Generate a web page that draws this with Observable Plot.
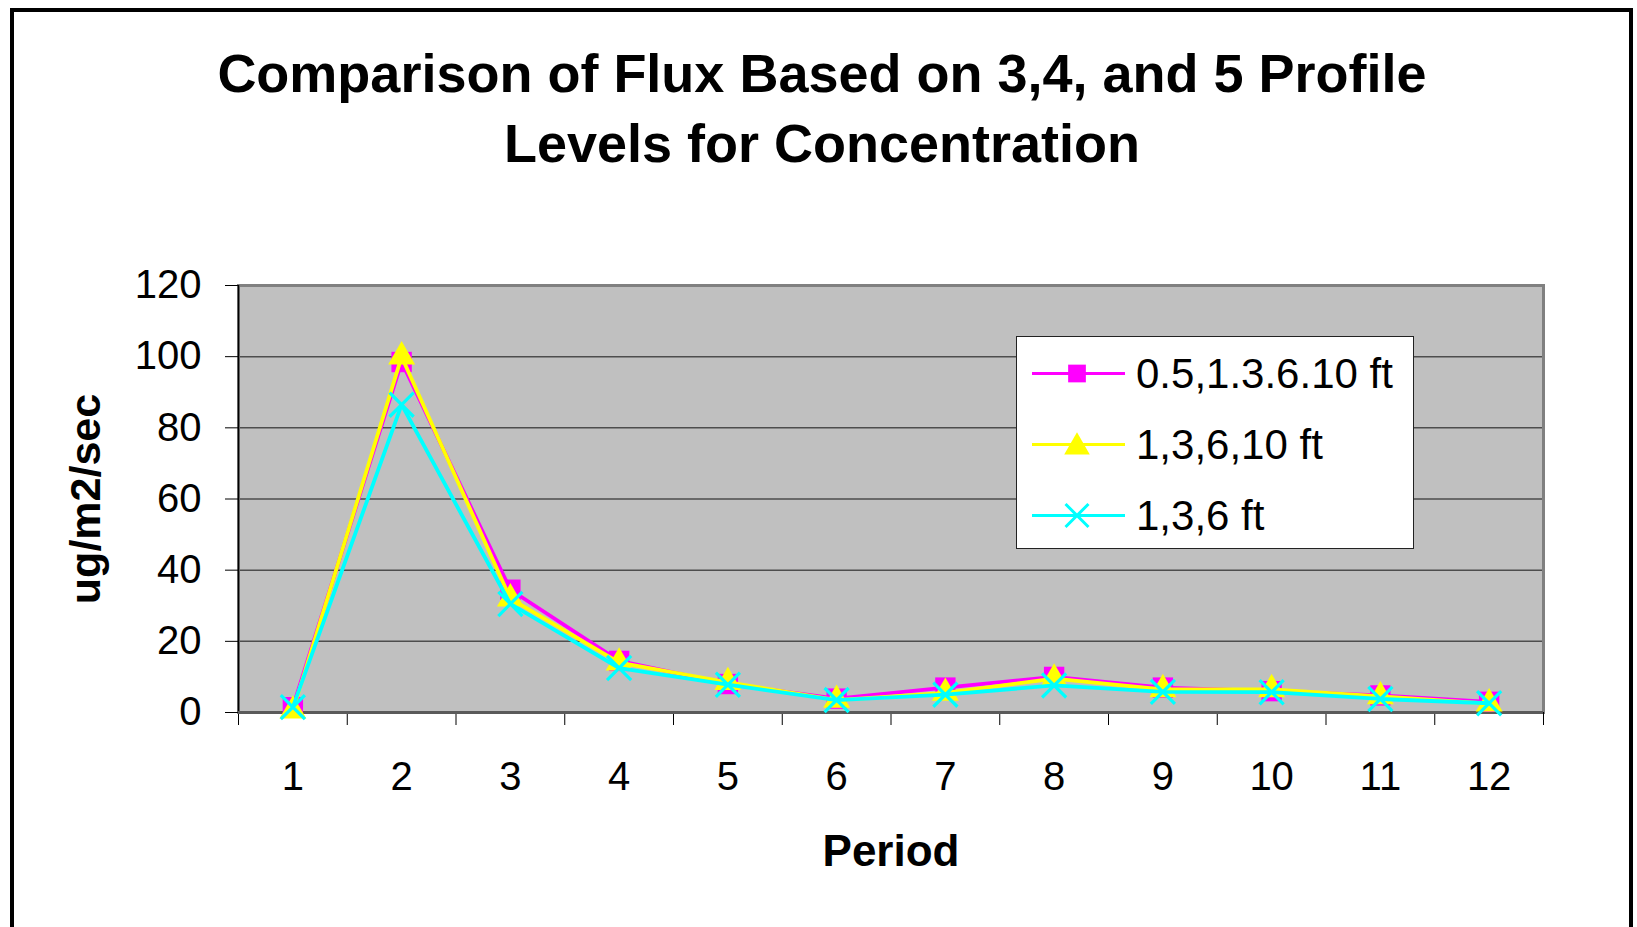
<!DOCTYPE html>
<html>
<head>
<meta charset="utf-8">
<script src="https://cdn.jsdelivr.net/npm/d3@7"></script>
<script src="https://cdn.jsdelivr.net/npm/@observablehq/plot@0.6"></script>
<style>
  html, body { margin: 0; padding: 0; overflow: hidden; background: #fff; }
  body { width: 1637px; height: 927px; position: relative;
         font-family: "Liberation Sans", Arial, Helvetica, sans-serif; color: #000; }
  #border { position: absolute; left: 10px; top: 8px; width: 1615px; height: 980px;
            border: 4px solid #000; }
  #title { position: absolute; left: 12px; top: 38px; width: 1620px; text-align: center;
           font-weight: bold; font-size: 54px; line-height: 70px; }
  #chart { position: absolute; left: 0; top: 240px; }
  #legend { position: absolute; left: 1016px; top: 336px; width: 398px; height: 213px;
            box-sizing: border-box; border: 1.5px solid #222; background: #fff; padding-top: 1px; }
  .row { display: flex; align-items: center; height: 71px; }
  .row span { font-size: 42px; margin-left: 9px; white-space: nowrap; }
</style>
</head>
<body>
<div id="border"></div>
<div id="title">Comparison of Flux Based on 3,4, and 5 Profile<br>Levels for Concentration</div>
<div id="chart"></div>
<div id="legend"></div>
<script>
// Measurement periods and flux (ug/m2/sec) for each profile-level combination
const periods = [1, 2, 3, 4, 5, 6, 7, 8, 9, 10, 11, 12];
const seriesNames = ["0.5,1.3.6.10 ft", "1,3,6,10 ft", "1,3,6 ft"];
const fluxFiveLevels = [1.5, 98.5, 34.5, 14.5, 8.0, 3.9, 7.0, 10.0, 7.0, 6.0, 4.8, 3.0];
const fluxFourLevels = [0.5, 100, 32.0, 14.0, 8.5, 3.5, 5.5, 9.5, 6.5, 6.5, 4.5, 2.5];
const fluxThreeLevels = [1.5, 86.5, 30.5, 12.5, 7.8, 3.5, 5.0, 7.6, 5.8, 5.7, 3.8, 2.6];
const seriesColors = ["#ff00ff", "#ffff00", "#00ffff"];
const seriesSymbols = ["square", "triangle", "times"];
const yTicks = [0, 20, 40, 60, 80, 100, 120];
const periodBounds = [0.5, 1.5, 2.5, 3.5, 4.5, 5.5, 6.5, 7.5, 8.5, 9.5, 10.5, 11.5, 12.5];

const seriesValues = [fluxFiveLevels, fluxFourLevels, fluxThreeLevels];
const rows = seriesNames.map((name, i) =>
  periods.map((p, j) => ({series: name, period: p, value: seriesValues[i][j]})));

// Per-series line then markers, in legend order
const seriesMarks = rows.flatMap((data, i) => {
  const sym = seriesSymbols[i];
  const dot = sym === "times"
    ? Plot.dot(data, {x: "period", y: "value", symbol: () => sym, r: 11,
                      stroke: seriesColors[i], strokeWidth: 3.2, fill: "none"})
    : Plot.dot(data, {x: "period", y: "value", symbol: () => sym,
                      r: sym === "square" ? 11.5 : 10, fill: seriesColors[i], stroke: "none"});
  return [
    Plot.line(data, {x: "period", y: "value", stroke: seriesColors[i], strokeWidth: 3.8}),
    dot
  ];
});

const chart = Plot.plot({
  width: 1637,
  height: 687,
  marginTop: 45,
  marginBottom: 215,
  marginLeft: 238,
  marginRight: 94,
  style: {fontFamily: "'Liberation Sans', Arial, sans-serif", fontSize: "40px",
          color: "#000", background: "transparent", overflow: "visible"},
  x: {type: "linear", domain: [0.5, 12.5]},
  y: {domain: [0, 120]},
  symbol: {type: "identity"},
  marks: [
    Plot.frame({fill: "#c0c0c0"}),
    Plot.gridY({ticks: yTicks.slice(1, -1), stroke: "#4d4d4d", strokeOpacity: 1, strokeWidth: 1.5}),
    Plot.frame({stroke: "#808080", strokeWidth: 3}),
    Plot.axisY({ticks: yTicks, tickSize: 13, tickPadding: 24, fontSize: 40, label: null}),
    Plot.axisX({ticks: periodBounds, tickFormat: () => "", tickSize: 13, label: null}),
    Plot.axisX({ticks: periods, tickSize: 0, tickPadding: 49, fontSize: 40, label: null}),
    Plot.ruleX([0.5], {stroke: "#000", strokeWidth: 1.5}),
    Plot.ruleY([0], {stroke: "#5a5a5a", strokeWidth: 3}),
    ...seriesMarks,
    Plot.text(["Period"], {text: d => d, frameAnchor: "bottom", dy: 139, textAnchor: "middle",
                           fontSize: 44, fontWeight: "bold", lineAnchor: "middle"}),
    Plot.text(["ug/m2/sec"], {text: d => d, frameAnchor: "left", dx: -152, rotate: -90,
                              textAnchor: "middle", fontSize: 43, fontWeight: "bold",
                              lineAnchor: "middle"})
  ]
});
document.getElementById("chart").append(chart);

// Legend: line swatch with marker and series name
const legend = d3.select("#legend");
seriesNames.forEach((name, i) => {
  const row = legend.append("div").attr("class", "row");
  const sw = row.append("svg").attr("width", 110).attr("height", 71);
  sw.append("line").attr("x1", 15).attr("x2", 108).attr("y1", 35.5).attr("y2", 35.5)
    .attr("stroke", seriesColors[i]).attr("stroke-width", 3);
  const sym = seriesSymbols[i];
  const d3sym = sym === "square" ? d3.symbolSquare : sym === "triangle" ? d3.symbolTriangle : d3.symbolTimes;
  const r = sym === "square" ? 10 : sym === "triangle" ? 9.5 : 10.5;
  const path = sw.append("path")
    .attr("transform", `translate(60,${sym === "triangle" ? 38 : 35.5})`)
    .attr("d", d3.symbol(d3sym, Math.PI * r * r)());
  if (sym === "times") path.attr("fill", "none").attr("stroke", seriesColors[i]).attr("stroke-width", 3);
  else path.attr("fill", seriesColors[i]);
  row.append("span").text(name);
});
</script>
</body>
</html>
